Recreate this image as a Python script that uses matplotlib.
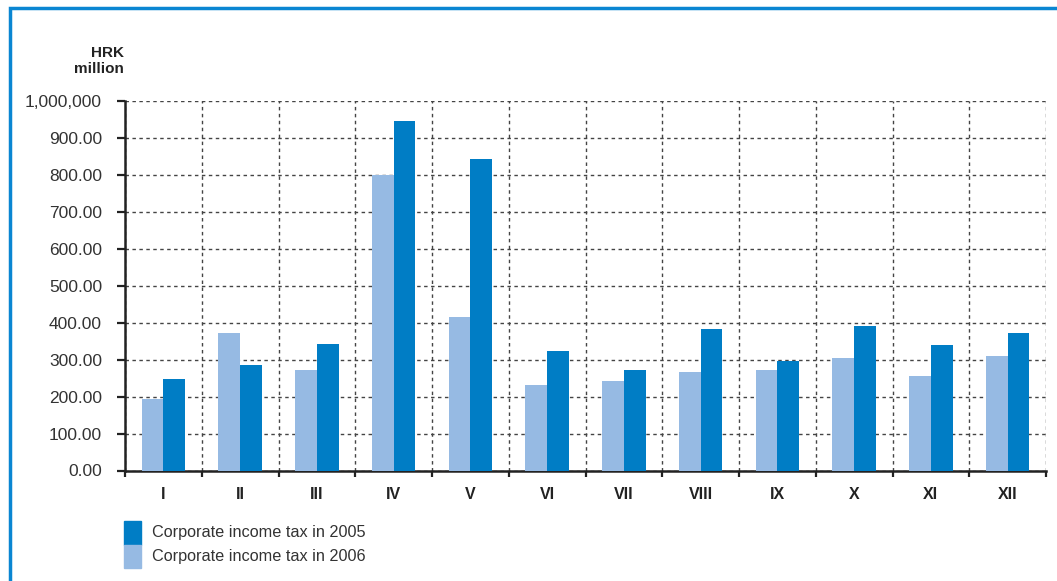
import matplotlib.pyplot as plt
import matplotlib        as mpl
import numpy             as np
from matplotlib.patches  import Rectangle

months   = ['I', 'II', 'III', 'IV', 'V', 'VI', 'VII', 'VIII', 'IX', 'X', 'XI', 'XII']
tax_2006 = [193, 372, 272, 800, 415, 231, 242, 267, 272, 304, 256, 310]
tax_2005 = [247, 285, 342, 946, 843, 323, 272, 383, 296, 391, 339, 372]
yticks      = [0, 100, 200, 300, 400, 500, 600, 700, 800, 900, 1000]
ytick_names = ['0.00', '100.00', '200.00', '300.00', '400.00', '500.00', '600.00',
               '700.00', '800.00', '900.00', '1,000,000']

dark  = '#007DC5'
light = '#96BAE3'
frame = '#0A86D2'
txt   = '#333333'

mpl.rcParams['font.family'] = ['Liberation Sans', 'DejaVu Sans']

fig = plt.figure(figsize=(10.57, 5.81), dpi=100)
ax = fig.add_axes([125/1057, 1 - 470.5/581, (1046 - 125)/1057, (470.5 - 101)/581])

x = np.arange(len(months))
w = 0.285
ax.bar(x - w/2, tax_2006, w, color=light, zorder=3)
ax.bar(x + w/2, tax_2005, w, color=dark, zorder=3)

ax.set_xlim(-0.5, len(months) - 0.5)
ax.set_ylim(0, 1000)

# category labels in the middle, tick marks on the boundaries
ax.set_xticks(x)
ax.set_xticklabels(months, fontweight='bold', fontsize=11.5, color='#222222')
ax.tick_params(axis='x', which='major', length=0, pad=12)
ax.set_xticks(np.arange(len(months) + 1) - 0.5, minor=True)
ax.tick_params(axis='x', which='minor', length=4.5, width=1.6, color='#222222', direction='out')

ax.set_yticks(yticks)
ax.set_yticklabels(ytick_names, fontsize=12.5, color=txt)
ax.tick_params(axis='y', length=5.5, width=1.6, color='#222222', pad=11)

ax.grid(True, axis='y', which='major', color='#444444', linestyle=(0, (2.5, 2.5)), linewidth=1.0, zorder=1)
ax.grid(True, axis='x', which='minor', color='#444444', linestyle=(0, (2.5, 2.5)), linewidth=1.0, zorder=1)
ax.grid(False, axis='x', which='major')

for s in ['top', 'right']:
    ax.spines[s].set_visible(False)
for s in ['left', 'bottom']:
    ax.spines[s].set_linewidth(1.8)
    ax.spines[s].set_color('#222222')

fig.text(124/1057, 1 - 53/581, 'HRK', ha='right', va='center', fontweight='bold', fontsize=11, color='#222222')
fig.text(124/1057, 1 - 69/581, 'million', ha='right', va='center', fontweight='bold', fontsize=11, color='#222222')

# legend drawn by hand to keep the stacked swatches
leg_items = [('Corporate income tax in 2005', dark), ('Corporate income tax in 2006', light)]
for k, (lab, col) in enumerate(leg_items):
    top = 521 + k*23.5
    fig.patches.append(Rectangle((124/1057, 1 - (top + 23.5)/581), 17/1057, 23.5/581,
                                 transform=fig.transFigure, color=col, figure=fig))
    fig.text(152/1057, 1 - (top + 12)/581, lab, ha='left', va='center', fontsize=11.7, color=txt)

# blue frame around the whole chart
fig.patches.append(Rectangle((10/1057, -0.1), 1.2, 1 - 8/581 + 0.1, transform=fig.transFigure,
                             fill=False, edgecolor=frame, linewidth=2.5, figure=fig))

plt.savefig('out.png', dpi=100)
